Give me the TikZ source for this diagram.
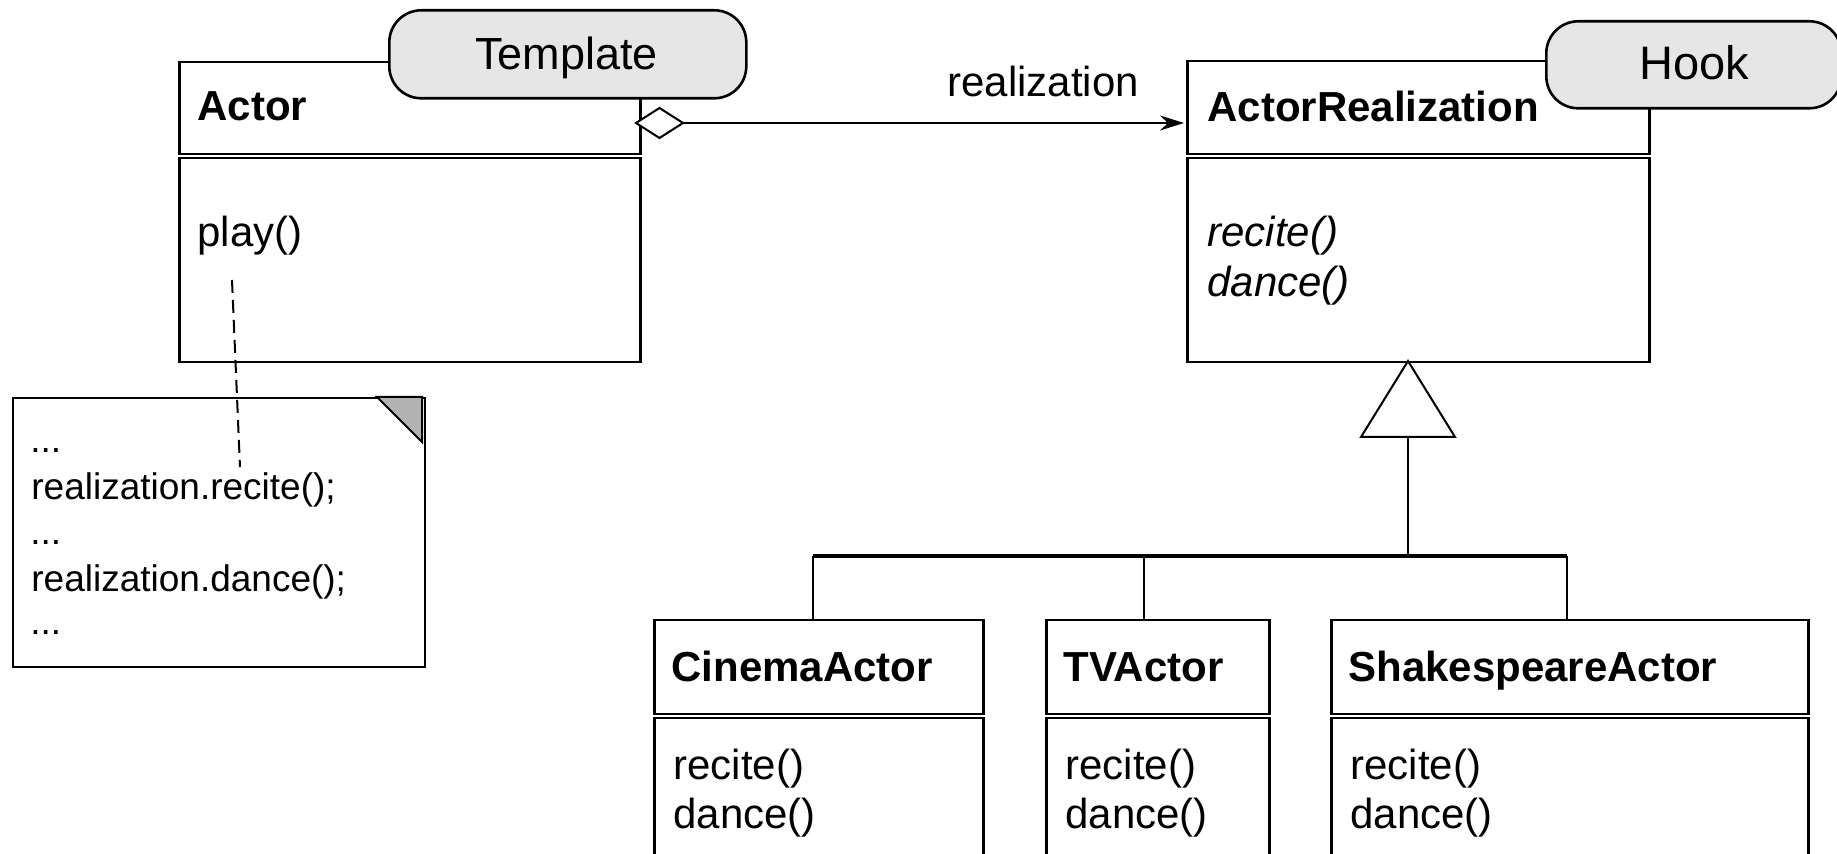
\documentclass[tikz,border=0pt]{standalone}
\usepackage{fontspec}
\setmainfont{Liberation Sans}
\usetikzlibrary{arrows.meta}
\definecolor{pillgray}{HTML}{E6E6E6}
\definecolor{foldgray}{HTML}{B3B3B3}
\begin{document}
\begin{tikzpicture}[x=0.5pt,y=-0.5pt,
  cls/.style={draw, line width=1.25pt, fill=white, inner sep=0pt, anchor=north west, rectangle},
  pill/.style={draw, line width=1.3pt, fill=pillgray, rounded corners=16pt, inner sep=0pt, anchor=north west},
  txt/.style={anchor=base west, inner sep=0pt, font=\fontsize{21}{25}\selectfont},
  ctxt/.style={anchor=base, inner sep=0pt},
  notetxt/.style={anchor=base west, inner sep=0pt, font=\fontsize{18.5}{22}\selectfont},
  conn/.style={line width=1pt},
]
\useasboundingbox (0,0) rectangle (1837,854);
\clip (0,0) rectangle (1837,854);
\fill[white] (0,0) rectangle (1837,854);

% Actor class
\node[cls, minimum width=230.5pt, minimum height=46pt] (actorH) at (178,61) {};
\node[cls, minimum width=230.5pt, minimum height=102pt] (actorB) at (178,157) {};
\node[txt] (actorT) at (197,121) {\textbf{Actor}};
\node[txt] (playT) at (197,247) {play()};

% ActorRealization class
\node[cls, minimum width=231pt, minimum height=46.5pt] (arH) at (1186,60) {};
\node[cls, minimum width=231pt, minimum height=102pt] (arB) at (1186,157) {};
\node[txt] (arT) at (1207,122) {\textbf{ActorRealization}};
\node[txt] (arM1) at (1207,247) {\textit{recite()}};
\node[txt] (arM2) at (1207,297) {\textit{dance()}};

% Pills
\node[pill, minimum width=178.5pt, minimum height=44pt] (tmpl) at (388,9) {};
\node[ctxt, font=\fontsize{22.5}{26}\selectfont] (tmplT) at (566.5,70) {Template};
\node[pill, minimum width=147.5pt, minimum height=43.5pt] (hook) at (1545,20) {};
\node[ctxt, font=\fontsize{23.5}{27}\selectfont] (hookT) at (1694,80) {Hook};

% Aggregation (diamond) + navigable association
\coordinate (dL) at (636,123);
\coordinate (dR) at (683,123);
\draw[conn, fill=white] (dL) -- (659.5,108) -- (dR) -- (659.5,138) -- cycle;
\draw[conn, -{Stealth[length=12pt,width=7.5pt,inset=4pt]}, shorten >=1pt] (dR) -- (arH.west |- dR);
\node[txt] (relT) at (947,97) {realization};

% Subclasses
\node[cls, minimum width=164.5pt, minimum height=47pt] (cinH) at (653,619) {};
\node[cls, minimum width=164.5pt, minimum height=80pt] (cinB) at (653,717) {};
\node[txt] (cinT) at (671,682) {\textbf{CinemaActor}};
\node[txt] (cinM1) at (673,780) {recite()};
\node[txt] (cinM2) at (673,828) {dance()};

\node[cls, minimum width=111.5pt, minimum height=47pt] (tvH) at (1045,619) {};
\node[cls, minimum width=111.5pt, minimum height=80pt] (tvB) at (1045,717) {};
\node[txt] (tvT) at (1063,682) {\textbf{TVActor}};
\node[txt] (tvM1) at (1065,780) {recite()};
\node[txt] (tvM2) at (1065,828) {dance()};

\node[cls, minimum width=238.5pt, minimum height=47pt] (shH) at (1330,619) {};
\node[cls, minimum width=238.5pt, minimum height=80pt] (shB) at (1330,717) {};
\node[txt] (shT) at (1348,682) {\textbf{ShakespeareActor}};
\node[txt] (shM1) at (1350,780) {recite()};
\node[txt] (shM2) at (1350,828) {dance()};

% Generalization
\coordinate (apex) at (1408,361);
\coordinate (triB) at (1408,437);
\draw[conn, fill=white] (apex) -- (1455,437) -- (1361,437) -- cycle;
\coordinate (bL) at (813,556);
\coordinate (bM) at (1144,556);
\coordinate (bR) at (1567,556);
\coordinate (bS) at (1408,556);
\draw[conn] (triB) -- (bS);
\draw[line width=2pt] (bL) -- (bR);
\draw[conn] (bL) -- (bL |- cinH.north);
\draw[conn] (bM) -- (bM |- tvH.north);
\draw[conn] (bR) -- (bR |- shH.north);

% Note
\node[cls, line width=1.1pt, minimum width=206pt, minimum height=134.5pt] (note) at (12,397) {};
\draw[conn, fill=foldgray] (377,397) -- (422,397) -- (422,442) -- cycle;
\node[notetxt] (n1) at (30,453) {...};
\node[notetxt] (n2) at (31,500) {realization.recite();};
\node[notetxt] (n3) at (30,545) {...};
\node[notetxt] (n4) at (31,592) {realization.dance();};
\node[notetxt] (n5) at (30,635) {...};

% Note anchor (dashed)
\coordinate (dA) at (232,280);
\coordinate (dB) at (240,467);
\draw[conn, dashed, dash pattern=on 6.5pt off 3.5pt] (dA) -- (dB);
\end{tikzpicture}
\end{document}
